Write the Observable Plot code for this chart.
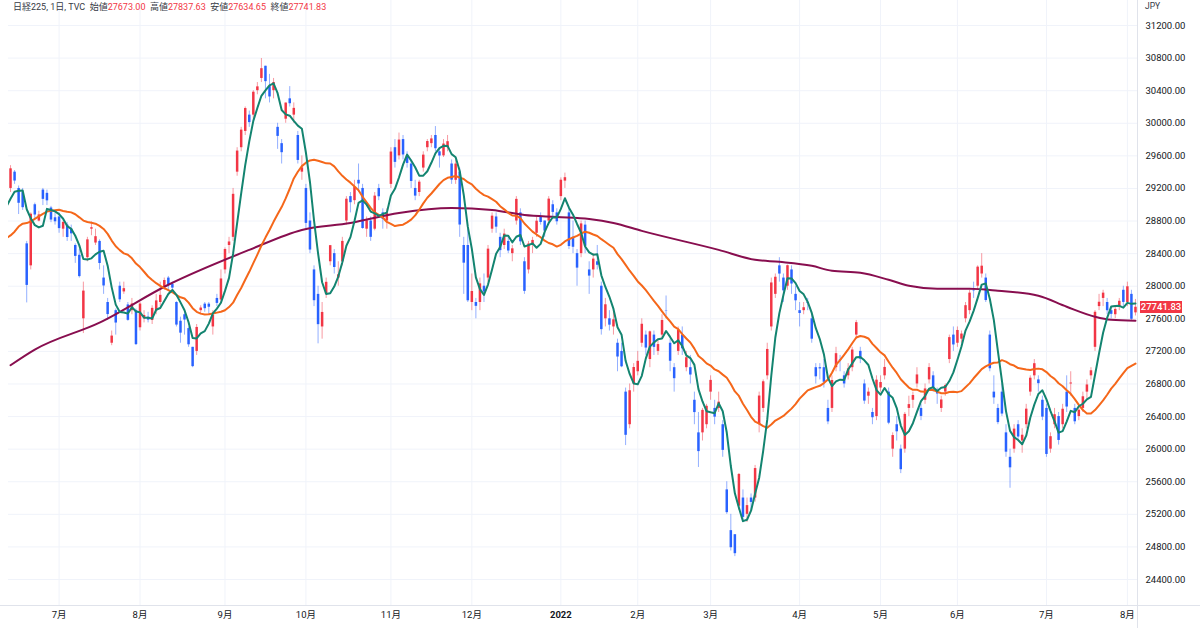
<!DOCTYPE html>
<html><head><meta charset="utf-8">
<script src="https://cdn.jsdelivr.net/npm/d3@7"></script>
<script src="https://cdn.jsdelivr.net/npm/@observablehq/plot@0.6"></script>
<style>
html,body{margin:0;padding:0;background:#fff;}
#wrap{position:relative;width:1200px;height:628px;overflow:hidden;font-family:Roboto,"Noto Sans CJK JP",sans-serif;color:#131722;}
#hdr{position:absolute;left:13px;top:1px;font-size:9px;line-height:12px;white-space:pre;color:#363a45;}
#hdr .v{color:#f23645;}
#jpy{position:absolute;left:1145px;top:0px;font-size:8.5px;line-height:12px;color:#363a45;}
#vsep{position:absolute;left:1137px;top:0;width:1px;height:628px;background:#e0e3eb;}
#hsep{position:absolute;left:0;top:605px;width:1200px;height:1px;background:#e0e3eb;}
#price{position:absolute;left:1140px;width:42px;height:12px;background:#f23645;color:#fff;font-size:9.5px;line-height:12px;text-align:center;font-weight:500;}
</style></head>
<body><div id="wrap"></div>
<script>
// ---- data ----
const dayLists = [
  ["2021-06",[15,16,17,18,21,22,23,24,25,28,29,30]],
  ["2021-07",[1,2,5,6,7,8,9,12,13,14,15,16,19,20,21,26,27,28,29,30]],
  ["2021-08",[2,3,4,5,6,10,11,12,13,16,17,18,19,20,23,24,25,26,27,30,31]],
  ["2021-09",[1,2,3,6,7,8,9,10,13,14,15,16,17,21,22,24,27,28,29,30]],
  ["2021-10",[1,4,5,6,7,8,11,12,13,14,15,18,19,20,21,22,25,26,27,28,29]],
  ["2021-11",[1,2,4,5,8,9,10,11,12,15,16,17,18,19,22,24,25,26,29,30]],
  ["2021-12",[1,2,3,6,7,8,9,10,13,14,15,16,17,20,21,22,23,24,27,28,29,30]],
  ["2022-01",[4,5,6,7,11,12,13,14,17,18,19,20,21,24,25,26,27,28,31]],
  ["2022-02",[1,2,3,4,7,8,9,10,14,15,16,17,18,21,22,24,25,28]],
  ["2022-03",[1,2,3,4,7,8,9,10,11,14,15,16,17,18,22,23,24,25,28,29,30,31]],
  ["2022-04",[1,4,5,6,7,8,11,12,13,14,15,18,19,20,21,22,25,26,27,28]],
  ["2022-05",[2,6,9,10,11,12,13,16,17,18,19,20,23,24,25,26,27,30,31]],
  ["2022-06",[1,2,3,6,7,8,9,10,13,14,15,16,17,20,21,22,23,24,27,28,29,30]],
  ["2022-07",[1,4,5,6,7,8,11,12,13,14,15,19,20,21,22,25,26,27,28,29]],
  ["2022-08",[1,2,3]]
];
const opens = [
 29200,29400,29200,29150,28520,28250,29000,28800,29180,29140,28960,28840,
 28850,28700,28750,28700,28500,28380,27600,28350,28700,28530,28550,28100,27800,27300,27700,28000,27930,27770,27700,27700,
 27490,27600,27620,27580,27700,27800,27980,28100,28020,27800,27570,27650,27480,27250,27200,27700,27780,27780,27500,27850,27830,
 28200,28500,28600,29400,29700,29900,30100,30100,30400,30550,30700,30450,30400,29950,29750,30050,30300,30100,29850,29400,
 29200,28800,28200,27900,27500,27900,28300,28400,28100,28300,28800,29100,29050,29300,29200,28700,28800,28700,29200,28900,28800,
 29250,29700,29600,29800,29600,29500,29200,29150,29450,29700,29750,29850,29650,29600,29700,29500,29300,29400,28500,28500,
 27800,27800,27800,28000,28100,28700,28850,28600,28500,28550,28400,28800,28900,28300,28200,28500,28650,28850,28800,28800,29000,28900,
 29100,29290,28900,28600,28400,28400,28750,28200,28200,28300,28000,27600,27600,27500,27300,27200,26700,26300,26800,
 26950,27300,27400,27100,27400,27200,27400,27700,27300,27000,27200,27400,27000,27000,26600,26200,26200,26300,
 26700,26500,26500,26300,25500,25000,24950,25300,25400,25200,25400,25400,26300,26500,26900,27500,27900,28250,28100,28000,28200,27900,
 27700,27700,27800,27600,27000,27000,27000,26500,26500,27000,27100,26900,26900,27000,27400,27200,26800,26650,26450,26400,
 26750,26900,26700,26000,26300,26000,26000,26500,26600,26800,26500,26600,26850,26900,26700,26500,26700,27100,27400,
 27300,27350,27600,27700,27950,28000,28150,28100,27400,26700,26500,26700,26200,25900,26000,26300,26100,26300,26700,26900,26850,26600,
 26500,26000,26300,26400,26300,26700,26800,26500,26400,26500,26700,26900,27250,27750,27850,27800,27700,27650,27750,27950,
 27800,27900,27673.00
];
const highs = [
 29480,29420,29230,29200,28550,28900,29020,28920,29200,29180,28980,28900,
 28900,28800,28780,28750,28520,28450,28050,28600,28790,28700,28570,28250,27850,27450,27720,28050,28050,27800,27850,27720,
 27800,27700,27680,27760,27900,28050,28100,28120,28050,27810,27620,27680,27500,27250,27530,27760,27800,27800,27700,27900,28200,
 28470,28600,29200,29700,29950,30200,30150,30400,30500,30795,30700,30600,30550,30000,29800,30250,30450,30250,29900,29600,
 29250,28900,28250,28000,27800,28100,28500,28450,28300,28600,29100,29150,29300,29500,29250,28850,28850,29150,29250,28950,28950,
 29700,29800,29880,29850,29650,29550,29300,29300,29650,29800,29850,29960,29700,29800,29850,29550,29550,29450,28600,28700,
 28150,27850,28100,28150,28500,28900,28900,28650,28700,28600,28500,29100,28950,28350,28550,28600,28850,28900,28800,29100,29050,28950,
 29330,29388,28950,28800,28450,28800,28800,28300,28400,28500,28050,27850,27700,27700,27350,27300,26750,26800,27050,
 27200,27600,27450,27450,27450,27350,27650,27880,27350,27050,27500,27500,27200,27150,26700,26450,26500,26550,
 26900,26600,26700,26350,25600,25200,24950,25700,25500,25400,25450,25800,26700,26850,27300,28100,28150,28350,28150,28260,28250,28000,
 27800,27800,27850,27650,27050,27050,27100,26600,26900,27250,27150,26950,27050,27250,27580,27250,26850,26750,26500,26900,
 26900,27100,26750,26200,26400,26050,26450,26650,26700,27000,26550,26800,27050,26950,26750,26650,26800,27400,27500,
 27500,27450,27800,27950,28050,28250,28400,28150,27450,26900,26550,26800,26300,26000,26300,26350,26250,26550,26900,27100,26900,26650,
 26550,26200,26500,26450,26550,26900,26950,26550,26550,26700,26850,27000,27700,27900,27950,27850,27750,27750,27850,28000,
 28050,27950,27837.63
];
const lows = [
 29150,29250,28880,28930,27795,28200,28820,28790,28990,28990,28780,28750,
 28650,28600,28550,28550,28280,28100,27419,28300,28620,28500,28200,27900,27580,27270,27400,27800,27900,27570,27650,27272,
 27450,27550,27550,27530,27650,27750,27950,27950,27920,27500,27300,27400,27250,27000,27150,27650,27680,27650,27400,27750,27800,
 28150,28400,28550,29350,29650,29850,29950,30050,30350,30500,30300,30250,30300,29680,29500,30000,30200,30000,29500,29300,
 28700,28400,27750,27293,27350,27850,28250,28150,28000,28250,28750,28900,29000,29150,28700,28600,28550,28680,29050,28700,28700,
 29200,29450,29550,29550,29450,29200,29050,29100,29400,29650,29700,29650,29450,29580,29650,29250,29250,28600,27900,27800,
 27700,27600,27700,27800,28050,28650,28650,28350,28450,28400,28300,28750,28500,27900,28150,28400,28600,28750,28600,28750,28850,28750,
 29050,29200,28450,28400,28000,28350,28400,27900,28100,28200,27400,27500,27450,27400,26950,27000,26044,26250,26700,
 26900,27250,27150,27000,27150,27150,27350,27600,26950,26700,27150,27150,26950,26800,26300,25775,26100,26250,
 26600,26300,26450,25900,25200,24750,24681,25250,25100,25100,25250,25350,26200,26450,26850,27450,27850,28050,27800,27950,27900,27700,
 27500,27650,27700,27300,26800,26850,26750,26300,26450,26950,26950,26750,26850,26950,27350,27050,26550,26550,26300,26350,
 26700,26850,26300,25900,26100,25700,25950,26400,26500,26750,26350,26550,26800,26700,26550,26450,26650,27050,27200,
 27250,27300,27550,27650,27850,27950,28100,27800,26950,26550,26300,26400,25900,25520,25950,26100,25950,26250,26650,26850,26700,26350,
 25900,25950,26250,26050,26250,26450,26650,26300,26350,26450,26600,26850,27200,27700,27750,27650,27600,27600,27700,27750,
 27750,27580,27634.65
];
const closes = [
 29441,29291,29018,28964,28010,28884,28874,28875,29066,29048,28812,28791,
 28707,28783,28598,28643,28366,28118,27940,28569,28718,28608,28279,28003,27652,27388,27548,27833,27970,27581,27782,27283,
 27781,27641,27584,27728,27820,27888,28070,28015,27977,27523,27424,27585,27281,27013,27494,27732,27724,27742,27641,27789,28089,
 28451,28543,29128,29659,29916,30181,30008,30381,30447,30670,30511,30323,30500,29839,29639,30248,30240,30183,29544,29453,
 28771,28444,27822,27528,27678,28048,28498,28230,28140,28550,29068,29025,29215,29255,28708,28804,28600,29106,29098,28820,28892,
 29647,29520,29794,29611,29507,29285,29106,29277,29609,29776,29808,29688,29598,29745,29774,29302,29499,28751,28283,27821,
 27935,27753,28029,27927,28455,28860,28725,28437,28640,28432,28459,29066,28545,27937,28518,28562,28798,28782,28676,29069,28906,28791,
 29301,29332,28487,28478,28222,28765,28489,28124,28333,28257,27467,27772,27522,27588,27131,27011,26170,26717,27002,
 27078,27533,27241,27440,27249,27284,27579,27696,27079,26865,27460,27232,27122,26910,26449,25970,26476,26526,
 26844,26393,26577,25985,25221,24790,24717,25690,25162,25307,25346,25762,26652,26827,27224,28040,28110,28149,27943,28252,28027,27821,
 27665,27736,27787,27350,26888,26985,26821,26335,26843,27172,27093,26800,26985,27217,27553,27105,26590,26700,26386,26847,
 26818,27003,26319,26167,26213,25748,26427,26547,26659,26911,26402,26739,27001,26748,26677,26604,26781,27369,27279,
 27457,27413,27761,27915,27943,28234,28246,27824,26987,26629,26326,26431,25963,25771,26246,26149,26171,26491,26871,27049,26804,26393,
 25935,26153,26423,26107,26490,26517,26812,26336,26478,26643,26788,26962,27680,27803,27915,27699,27655,27715,27815,27801,
 27993,27594,27741.83
];
// closes of the 25 sessions before the first candle (only feed the moving averages)
const priorCloses = [28608,28147,27448,28084,27824,28406,28044,28098,28317,28364,28553,28642,28549,29149,28860,28814,28946,29058,28941,29019,28963,28860,28958,28948,29161];
// 200-day average
const ma200Dates = ["2021-06-15","2021-06-23","2021-07-15","2021-08-12","2021-09-09","2021-09-30","2021-10-18","2021-11-04","2021-11-24","2021-12-08","2021-12-20","2021-12-30","2022-01-14","2022-01-24","2022-02-02","2022-03-03","2022-03-16","2022-03-25","2022-04-06","2022-04-13","2022-04-22","2022-05-09","2022-05-16","2022-05-25","2022-06-06","2022-06-15","2022-06-29","2022-07-08","2022-07-20","2022-07-26","2022-08-03"];
const ma200Values = [27030,27222,27553,28018,28446,28691,28776,28899,28960,28936,28874,28850,28825,28776,28679,28446,28324,28299,28250,28189,28165,28079,28005,27969,27969,27944,27883,27748,27626,27589,27577];
const monthLabels = ["7月","8月","9月","10月","11月","12月","2022","2月","3月","4月","5月","6月","7月","8月"];
const yTicks = [24400,24800,25200,25600,26000,26400,26800,27200,27600,28000,28400,28800,29200,29600,30000,30400,30800,31200];
const header = {name:"日経225, 1日, TVC", o:"27673.00", h:"27837.63", l:"27634.65", c:"27741.83"};

// ---- build tables ----
const dates = dayLists.flatMap(([m, ds]) => ds.map(d => `${m}-${String(d).padStart(2,"0")}`));
const firstIdx = -12; // June 15 sits 12 sessions before July 1
const candles = dates.map((d, k) => ({date: d, i: firstIdx + k, open: opens[k], high: highs[k], low: lows[k], close: closes[k]}));
const idxOf = new Map(candles.map(c => [c.date, c.i]));
const series = priorCloses.map((c, k) => ({i: firstIdx - priorCloses.length + k, close: c})).concat(candles.map(c => ({i: c.i, close: c.close})));
const ma200 = ma200Dates.map((d, k) => ({i: idxOf.get(d), v: ma200Values[k]}));
const monthTicks = [];
let prevM = "2021-06";
for (const c of candles) { const m = c.date.slice(0,7); if (m !== prevM) { monthTicks.push({i: c.i}); prevM = m; } }
monthTicks.forEach((t, k) => t.label = monthLabels[k]);

const RED = "#f23645", BLUE = "#2962ff";
const col = d => d.close >= d.open ? RED : BLUE;
const xDomain = [-12.5, 266.5];
const yDomain = [24081, 31507];

const chart = Plot.plot({
  width: 1200, height: 628,
  marginLeft: 8, marginRight: 63, marginTop: 0, marginBottom: 23,
  style: {fontFamily: 'Roboto,"Noto Sans CJK JP",sans-serif', fontSize: "9.5px", color: "#131722", background: "transparent"},
  x: {type: "linear", domain: xDomain, axis: null},
  y: {domain: yDomain, axis: null},
  marks: [
    Plot.gridY(yTicks, {stroke: "#f0f3fa", strokeOpacity: 1}),
    Plot.gridX(monthTicks, {x: "i", stroke: "#f0f3fa", strokeOpacity: 1}),
    Plot.ruleX(candles, {x: "i", y1: "low", y2: "high", stroke: col, strokeOpacity: 0.5, strokeWidth: 1}),
    Plot.ruleX(candles, {x: "i", y1: "open", y2: "close", stroke: col, strokeWidth: 2.5}),
    Plot.lineY(ma200, {x: "i", y: "v", stroke: "#880e4f", strokeWidth: 2, curve: "monotone-x"}),
    Plot.lineY(series, Plot.windowY({k: 25, anchor: "end", strict: true}, {x: "i", y: "close", stroke: "#f5671a", strokeWidth: 2, clip: true})),
    Plot.lineY(series, Plot.windowY({k: 5, anchor: "end", strict: true}, {x: "i", y: "close", stroke: "#138470", strokeWidth: 2, clip: true})),
    Plot.axisY(yTicks, {anchor: "right", tickSize: 0, tickPadding: 8, tickFormat: d => d.toFixed(2), fontSize: 9.5, fill: "#131722"}),
    Plot.text(monthTicks.filter(t => t.label !== "2022"), {x: "i", text: "label", frameAnchor: "bottom", dy: 12, fontSize: 9.5, fill: "#131722"}),
    Plot.text(monthTicks.filter(t => t.label === "2022"), {x: "i", text: "label", frameAnchor: "bottom", dy: 12, fontSize: 9.5, fontWeight: "bold", fill: "#131722"})
  ]
});

const wrap = document.getElementById("wrap");
wrap.appendChild(chart);
chart.style.position = "absolute"; chart.style.left = "0"; chart.style.top = "0";

const add = (html) => { wrap.insertAdjacentHTML("beforeend", html); };
add('<div id="vsep"></div><div id="hsep"></div>');
add(`<div id="hdr">${header.name}  始値<span class="v">${header.o}</span>  高値<span class="v">${header.h}</span>  安値<span class="v">${header.l}</span>  終値<span class="v">${header.c}</span></div>`);
add('<div id="jpy">JPY</div>');
const last = candles[candles.length - 1];
const py = chart.scale("y").apply(last.close);
add(`<div id="price" style="top:${(py - 6).toFixed(1)}px">${last.close.toFixed(2)}</div>`);
</script></body></html>
